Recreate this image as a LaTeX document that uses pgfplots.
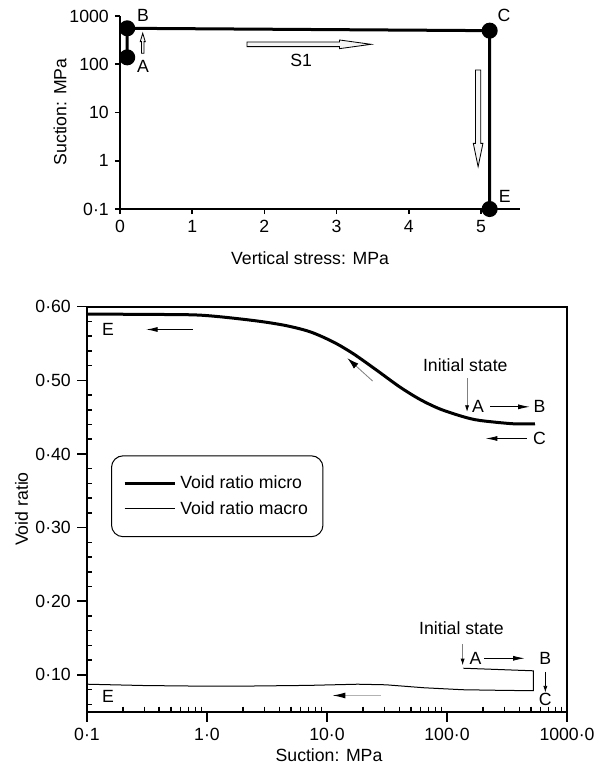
\documentclass[border=0pt]{standalone}
\usepackage{fontspec}
\setmainfont{Liberation Sans}
\usepackage{pgfplots}
\pgfplotsset{compat=1.18}
\usetikzlibrary{arrows.meta}

\begin{document}
\fontsize{10.6}{12.7}\selectfont
\begin{tikzpicture}
\useasboundingbox (0,0) rectangle (362.4pt,-459pt);

% ---- top: stress path ----
\begin{axis}[
  at={(72pt,-125.4pt)}, anchor=south west,
  scale only axis, width=240pt, height=115.8pt,
  axis x line=bottom, axis y line=left,
  axis line style={-, line width=1.4pt},
  ymode=log,
  xmin=0, xmax=5.54, ymin=0.1, ymax=1000,
  xtick={0,1,2,3,4,5}, xticklabels={0,1,2,3,4,5},
  ytick={0.1,1,10,100,1000}, yticklabels={0·1,1,10,100,1000},
  yminorticks=false,
  tick align=outside, major tick length=3pt,
  tick style={line width=1pt, black},
  clip=false,
]
\addplot[line width=1.8pt, mark=*, mark size=3.9pt] coordinates {
  (0.1,139) (0.1,556) (5.12,497) (5.12,0.1)
};
\node at (axis cs:0.32,1050) {B};
\node at (axis cs:0.32,89) {A};
\node at (axis cs:5.32,1050) {C};
\node at (axis cs:5.33,0.18) {E};
\node at (axis cs:2.51,122) {S1};
% hollow arrows
\draw[fill=gray!8, line width=0.5pt, shift={(axis cs:1.76,259)}]
  (0pt,1.4pt) -- (55.5pt,1.4pt) -- (55.5pt,2.6pt) -- (74.4pt,0pt) -- (55.5pt,-2.6pt) -- (55.5pt,-1.4pt) -- (0pt,-1.4pt) -- cycle;
\draw[fill=gray!8, line width=0.5pt, shift={(axis cs:0.315,169)}, rotate=90]
  (0pt,0.75pt) -- (7pt,0.75pt) -- (7pt,1.5pt) -- (12pt,0pt) -- (7pt,-1.5pt) -- (7pt,-0.75pt) -- (0pt,-0.75pt) -- cycle;
\draw[fill=gray!8, line width=0.5pt, shift={(axis cs:4.96,76)}, rotate=-90]
  (0pt,1.6pt) -- (44pt,1.6pt) -- (44pt,2.9pt) -- (58pt,0pt) -- (44pt,-2.9pt) -- (44pt,-1.6pt) -- (0pt,-1.6pt) -- cycle;
\end{axis}
\node[rotate=90] at (36pt,-67.2pt) {Suction: MPa};
\node at (186pt,-154.8pt) {Vertical stress: MPa};

% ---- bottom: void ratios ----
\begin{axis}[
  at={(52.2pt,-427pt)}, anchor=south west,
  scale only axis, width=288pt, height=243pt,
  xmode=log, xmin=0.1, xmax=1000, ymin=0.05, ymax=0.60,
  xtick={0.1,1,10,100,1000}, xticklabels={0·1,1·0,10·0,100·0,1000·0},
  minor xtick={0.2,0.3,0.4,0.5,0.6,0.7,0.8,0.9,2,3,4,5,6,7,8,9,20,30,40,50,60,70,80,90,200,300,400,500,600,700,800,900},
  ytick={0.1,0.2,0.3,0.4,0.5,0.6}, yticklabels={0·10,0·20,0·30,0·40,0·50,0·60},
  minor ytick={0.06,0.08,0.12,0.14,0.16,0.18,0.22,0.24,0.26,0.28,0.32,0.34,0.36,0.38,0.42,0.44,0.46,0.48,0.52,0.54,0.56,0.58},
  tickpos=left, tick align=outside, major tick length=6pt, minor tick length=-3pt,
  axis line style={line width=1.1pt},
  tick style={line width=0.9pt, black},
  clip=false,
  legend style={at={(rel axis cs:0.05,0.633)}, anchor=north west, draw=black, line width=0.6pt,
    rounded corners=7pt, inner xsep=7pt, inner ysep=10pt, row sep=2pt},
  legend cell align=left,
  legend image code/.code={\draw[#1, rounded corners=0pt] (0pt,0pt) -- (30.5pt,0pt);},
]
\addplot[line width=1.8pt, smooth, tension=0.5] coordinates {
  (0.1,0.590) (0.3,0.5895) (0.875,0.5885) (2.28,0.5818) (4.33,0.575) (7.2,0.566)
  (11.3,0.552) (16.6,0.536) (25.8,0.514) (40.4,0.491) (59.6,0.474) (87.5,0.461)
  (137,0.4505) (188,0.4455) (355,0.441) (541,0.441)
};
\addplot[line width=0.6pt] coordinates {
  (137,0.109) (525,0.1055) (525,0.0785) (300,0.0789) (135,0.0798) (64,0.0825)
  (31,0.0865) (18,0.0873) (7,0.0857) (2,0.0847) (1,0.0846) (0.3,0.0855) (0.1,0.0873)
};
\legend{Void ratio micro, Void ratio macro}

% annotations, micro
\node at (axis cs:0.15,0.569) {E};
\draw[line width=0.6pt, -{Latex[length=7pt,width=3pt]}] (axis cs:0.76,0.569) -- (axis cs:0.31,0.569);
\draw[gray, line width=0.5pt, -{Latex[length=7pt,width=4pt,color=black]}] (axis cs:24,0.499) -- (axis cs:14.8,0.530);
\node at (axis cs:142,0.521) {Initial state};
\draw[gray, line width=0.5pt, -{Latex[length=4pt,width=2.5pt,color=black]}] (axis cs:147,0.503) -- (axis cs:147,0.457);
\node at (axis cs:181,0.464) {A};
\draw[line width=0.5pt, -{Latex[length=7pt,width=3pt]}] (axis cs:229,0.464) -- (axis cs:490,0.464);
\node at (axis cs:590,0.464) {B};
\node at (axis cs:590,0.421) {C};
\draw[line width=0.5pt, -{Latex[length=7pt,width=3pt]}] (axis cs:460,0.421) -- (axis cs:210,0.421);

% annotations, macro
\node at (axis cs:132,0.163) {Initial state};
\draw[gray, line width=0.5pt, -{Latex[length=4pt,width=2.5pt,color=black]}] (axis cs:135,0.142) -- (axis cs:135,0.113);
\node at (axis cs:173,0.123) {A};
\draw[line width=0.5pt, -{Latex[length=7pt,width=3pt]}] (axis cs:204,0.1225) -- (axis cs:444,0.1225);
\node at (axis cs:660,0.123) {B};
\draw[line width=0.5pt, -{Latex[length=4pt,width=2.5pt]}] (axis cs:660,0.104) -- (axis cs:660,0.076);
\node at (axis cs:660,0.066) {C};
\node at (axis cs:0.15,0.0705) {E};
\draw[gray!60, line width=0.8pt, -{Latex[length=8pt,width=3.5pt,color=black]}] (axis cs:28,0.072) -- (axis cs:11,0.072);
\end{axis}
\node[rotate=90] at (13pt,-305.4pt) {Void ratio};
\node at (197.4pt,-453pt) {Suction: MPa};
\end{tikzpicture}
\end{document}
